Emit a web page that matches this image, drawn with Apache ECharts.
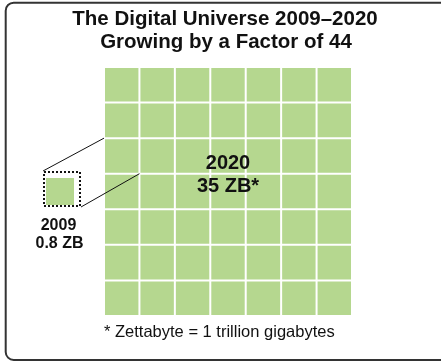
<!DOCTYPE html>
<html>
<head>
<meta charset="utf-8">
<script src="https://cdn.jsdelivr.net/npm/echarts@6/dist/echarts.min.js"></script>
<style>
  html, body { margin: 0; padding: 0; background: #fff; }
  #chart { width: 441px; height: 362px; }
</style>
</head>
<body>
<div id="chart"></div>
<script>
// data
const years = ['2009', '2020']
const volumesZB = [0.8, 35]
const gridCols = ['1', '2', '3', '4', '5', '6', '7']
const gridRows = ['1', '2', '3', '4', '5', '6', '7']
const zoomedCell = [0, 2] // the 2020 cell that the 2009 box is blown up from
const titleLines = ['The Digital Universe 2009\u20132020', 'Growing by a Factor of 44']
const footnote = '* Zettabyte = 1 trillion gigabytes'

const GREEN = '#b5d78f'
const FONT = '"Liberation Sans", Arial, Helvetica, sans-serif'

const bigCells = []
gridRows.forEach((r, ri) => {
  gridCols.forEach((c, ci) => {
    bigCells.push([ci, ri])
  })
})

function cellRenderer(gap) {
  return function (params, api) {
    const p = api.coord([api.value(0), api.value(1)])
    const s = api.size([1, 1])
    return {
      type: 'rect',
      shape: {
        x: p[0] - s[0] / 2 + gap / 2,
        y: p[1] - s[1] / 2 + gap / 2,
        width: s[0] - gap,
        height: s[1] - gap
      },
      style: { fill: GREEN }
    }
  }
}

const chart = echarts.init(document.getElementById('chart'), null, { renderer: 'canvas' })

function txt(text, x, y, size, weight, align) {
  return {
    type: 'text',
    silent: true,
    z: 100,
    style: {
      text: text,
      x: x,
      y: y,
      font: `${weight} ${size}px ${FONT}`,
      fill: '#111',
      textAlign: align || 'center',
      textVerticalAlign: 'middle'
    }
  }
}

const option = {
  animation: false,
  backgroundColor: '#fff',
  grid: [
    { left: 104, top: 67, width: 248, height: 249 },
    { left: 46, top: 178, width: 28, height: 27 }
  ],
  xAxis: [
    { type: 'category', gridIndex: 0, data: gridCols, show: false },
    { type: 'category', gridIndex: 1, data: [years[0]], show: false }
  ],
  yAxis: [
    { type: 'category', gridIndex: 0, data: gridRows, inverse: true, show: false },
    { type: 'category', gridIndex: 1, data: [years[0]], show: false }
  ],
  series: [
    {
      type: 'custom',
      xAxisIndex: 0,
      yAxisIndex: 0,
      renderItem: cellRenderer(2),
      data: bigCells
    },
    {
      type: 'custom',
      xAxisIndex: 1,
      yAxisIndex: 1,
      renderItem: cellRenderer(0),
      data: [[0, 0]]
    }
  ]
}
chart.setOption(option)

// zoom lines go from the dotted box to the corners of the zoomed cell
const ctr = chart.convertToPixel({ gridIndex: 0 }, zoomedCell)
const cellW = 248 / gridCols.length
const cellH = 249 / gridRows.length
const cellLeft = ctr[0] - cellW / 2
const cellTop = ctr[1] - cellH / 2
const box = { x: 44, y: 172, width: 36, height: 34 }

chart.setOption({
  graphic: [
    {
      type: 'rect',
      silent: true,
      z: 100,
      shape: { x: 5.7, y: 2.7, width: 450, height: 357.3, r: 8 },
      style: { fill: 'none', stroke: '#333', lineWidth: 2 }
    },
    {
      type: 'rect',
      silent: true,
      z: 100,
      shape: box,
      style: { fill: 'none', stroke: '#111', lineWidth: 2, lineDash: [2, 2] }
    },
    {
      type: 'line',
      silent: true,
      z: 100,
      shape: { x1: box.x - 1, y1: box.y - 1, x2: cellLeft, y2: cellTop },
      style: { stroke: '#111', lineWidth: 1 }
    },
    {
      type: 'line',
      silent: true,
      z: 100,
      shape: { x1: box.x + box.width + 1, y1: box.y + box.height + 1, x2: cellLeft + cellW, y2: cellTop + cellH },
      style: { stroke: '#111', lineWidth: 1 }
    },
    txt(titleLines[0], 225, 19.5, 20.5, 'bold'),
    txt(titleLines[1], 226, 42, 20.5, 'bold'),
    txt(years[1], 228, 163, 20, 'bold'),
    txt(volumesZB[1] + ' ZB*', 228, 186, 20, 'bold'),
    txt(years[0], 58.5, 226, 16, 'bold'),
    txt(volumesZB[0] + ' ZB', 59.5, 243.5, 16, 'bold'),
    txt(footnote, 104, 332, 16.5, 'normal', 'left')
  ]
})
</script>
</body>
</html>
